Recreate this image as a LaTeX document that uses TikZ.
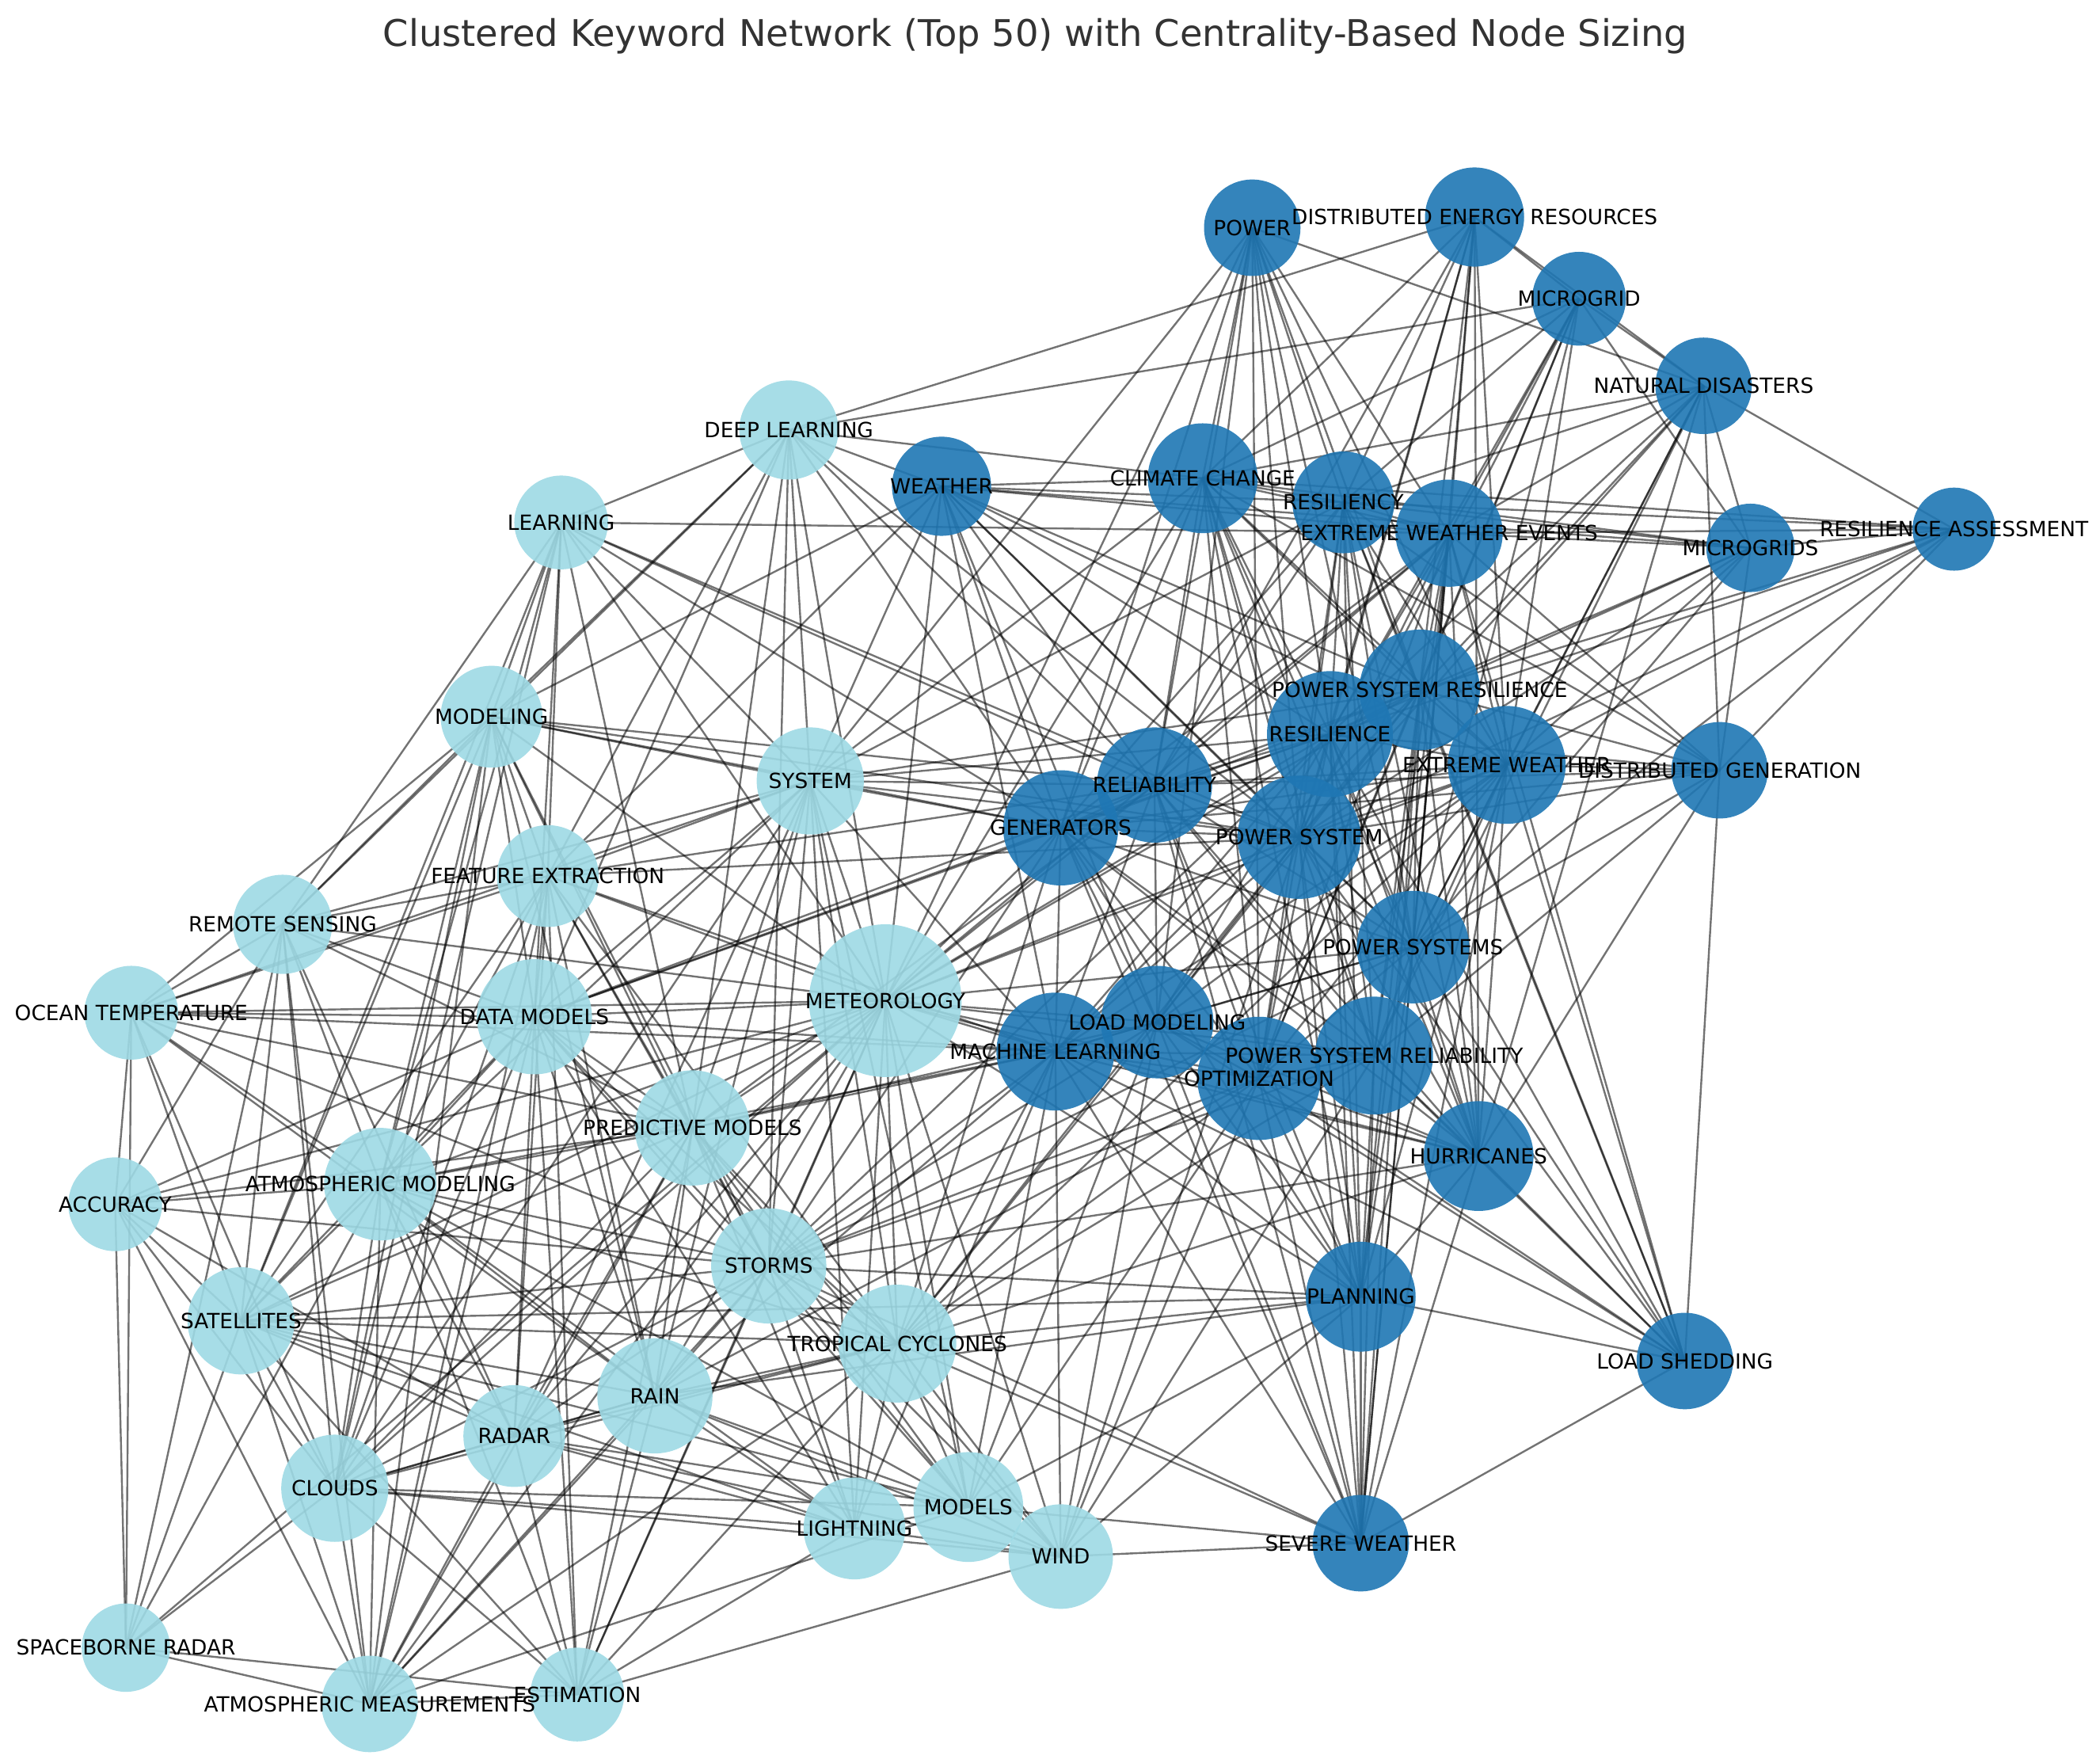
\documentclass[tikz,border=0pt]{standalone}
\usepackage{fontspec}
\setmainfont{DejaVu Sans}
\pgfdeclarelayer{bg}
\pgfsetlayers{bg,main}
\definecolor{darkc}{HTML}{1F77B4}
\definecolor{lightc}{HTML}{9EDAE5}
\definecolor{titlec}{HTML}{333333}
\tikzset{
  kwnode/.style={circle, inner sep=0pt, draw=none, fill opacity=0.9, minimum size=#1*0.84566pt},
  dknode/.style={kwnode=#1, fill=darkc},
  ltnode/.style={kwnode=#1, fill=lightc},
  lbl/.style={inner sep=0pt, font=\fontsize{6.6}{7}\selectfont, text=black},
  lnk/.style={draw=black, opacity=0.55, line width=0.6pt},
  ttl/.style={inner sep=0pt, font=\fontsize{11.6}{14}\selectfont, text=titlec, anchor=base}
}
\begin{document}
\begin{tikzpicture}[x=0.42283pt, y=-0.42283pt]
\useasboundingbox (0,0) rectangle (1568,1316.1);
% dark cluster
\node[dknode=36] (pw) at (935,170) {};
\node[dknode=37] (der) at (1101,162) {};
\node[dknode=35] (mg) at (1179,223) {};
\node[dknode=36] (nd) at (1272,288) {};
\node[dknode=37] (wx) at (703,363) {};
\node[dknode=41] (cc) at (898,357) {};
\node[dknode=38] (rsy) at (1003,375) {};
\node[dknode=40] (ewe) at (1082,398) {};
\node[dknode=33] (mgs) at (1307,409) {};
\node[dknode=31] (ra) at (1459,395) {};
\node[dknode=45] (psr) at (1060,515) {};
\node[dknode=47] (res) at (993,548) {};
\node[dknode=44] (ew) at (1125,571) {};
\node[dknode=36] (dg) at (1284,575) {};
\node[dknode=43] (rel) at (862,586) {};
\node[dknode=43] (gen) at (792,618) {};
\node[dknode=46] (ps) at (970,625) {};
\node[dknode=42] (pss) at (1055,707) {};
\node[dknode=42] (lm) at (864,763) {};
\node[dknode=44] (ml) at (788,785) {};
\node[dknode=46] (opt) at (940,805) {};
\node[dknode=44] (psrel) at (1026,788) {};
\node[dknode=41] (hur) at (1104,863) {};
\node[dknode=41] (pl) at (1016,968) {};
\node[dknode=36] (ls) at (1258,1016) {};
\node[dknode=36] (sw) at (1016,1152) {};
% light cluster
\node[ltnode=37] (dl) at (589,321) {};
\node[ltnode=35] (lrn) at (419,390) {};
\node[ltnode=38] (mod) at (367,535) {};
\node[ltnode=40] (sys) at (605,583) {};
\node[ltnode=38] (fe) at (409,654) {};
\node[ltnode=37] (rs) at (211,690) {};
\node[ltnode=35] (ot) at (98,756) {};
\node[ltnode=43] (dm) at (399,759) {};
\node[ltnode=57] (met) at (661,747) {};
\node[ltnode=43] (pm) at (517,842) {};
\node[ltnode=35] (acc) at (86,899) {};
\node[ltnode=42] (am) at (284,884) {};
\node[ltnode=43] (st) at (574,945) {};
\node[ltnode=40] (sat) at (180,986) {};
\node[ltnode=44] (tc) at (670,1003) {};
\node[ltnode=43] (rain) at (489,1042) {};
\node[ltnode=38] (rad) at (384,1072) {};
\node[ltnode=40] (cl) at (250,1111) {};
\node[ltnode=41] (mdl) at (723,1125) {};
\node[ltnode=38] (lt) at (638,1141) {};
\node[ltnode=39] (wind) at (792,1162) {};
\node[ltnode=33] (sr) at (94,1230) {};
\node[ltnode=36] (amm) at (276,1272) {};
\node[ltnode=35] (est) at (431,1265) {};
% edges below the nodes
\begin{pgfonlayer}{bg}
\fill[white] (0,0) rectangle (1568,1316.1);
\foreach \b in {nd,cc,rsy,ewe,res,psr,ps,rel,gen,sys,ew,pss,opt,met,lm} \draw[lnk] (pw.center) -- (\b.center);
\foreach \b in {mg,nd,dl,cc,rsy,ewe,psr,res,ps,ew,pss,hur,rel} \draw[lnk] (der.center) -- (\b.center);
\foreach \b in {nd,dl,cc,rsy,ewe,psr,res,ew,ps,mgs,pss,opt} \draw[lnk] (mg.center) -- (\b.center);
\foreach \b in {ra,cc,rsy,ewe,psr,res,ew,ps,mgs,dg,pss,hur,psrel} \draw[lnk] (nd.center) -- (\b.center);
\foreach \b in {dl,cc,rsy,ewe,mgs,sys,met,gen,rel,ps,res,psr,ew,fe,mod,ml,lm,pss} \draw[lnk] (wx.center) -- (\b.center);
\foreach \b in {dl,rsy,ewe,mgs,ra,psr,res,ew,ps,rel,gen,pss,psrel,opt,hur,sys,met,pl,dg} \draw[lnk] (cc.center) -- (\b.center);
\foreach \b in {ewe,mgs,ra,psr,res,ew,dg,ps,pss,psrel,rel,gen,opt,hur,pl,ls,sys} \draw[lnk] (rsy.center) -- (\b.center);
\foreach \b in {mgs,ra,psr,res,ew,dg,ps,pss,psrel,rel,gen,opt,hur,pl,ls,sw,lrn,met} \draw[lnk] (ewe.center) -- (\b.center);
\foreach \b in {ra,psr,res,ew,dg,ps,pss} \draw[lnk] (mgs.center) -- (\b.center);
\foreach \b in {psr,res,ew,dg,ps,pss} \draw[lnk] (ra.center) -- (\b.center);
\foreach \b in {res,ew,dg,ps,pss,psrel,rel,gen,opt,lm,ml,hur,pl,ls,sw,sys,met} \draw[lnk] (psr.center) -- (\b.center);
\foreach \b in {ew,dg,ps,pss,psrel,rel,gen,opt,lm,ml,hur,pl,ls,sw,sys,met,dm,st} \draw[lnk] (res.center) -- (\b.center);
\foreach \b in {dg,ps,pss,psrel,rel,gen,opt,lm,ml,hur,pl,ls,sw,met,tc} \draw[lnk] (ew.center) -- (\b.center);
\foreach \b in {ls,ps,pss,psrel,rel,gen,hur} \draw[lnk] (dg.center) -- (\b.center);
\foreach \b in {gen,ps,pss,psrel,opt,lm,ml,hur,pl,sw,sys,met,dm,fe,pm} \draw[lnk] (rel.center) -- (\b.center);
\foreach \b in {ps,pss,psrel,opt,lm,ml,hur,pl,sw,sys,met,dm,st,tc} \draw[lnk] (gen.center) -- (\b.center);
\foreach \b in {pss,psrel,opt,lm,ml,hur,pl,ls,sw,sys,met,tc,wind} \draw[lnk] (ps.center) -- (\b.center);
\foreach \b in {psrel,opt,lm,ml,hur,pl,ls,sw,met,st} \draw[lnk] (pss.center) -- (\b.center);
\foreach \b in {ml,opt,psrel,hur,pl,ls,sw,met,tc,st,mdl,wind,pm} \draw[lnk] (lm.center) -- (\b.center);
\foreach \b in {opt,psrel,hur,pl,ls,sw,met,sys,dm,pm,st,tc,rain,mdl,wind,lt,fe,am,ot} \draw[lnk] (ml.center) -- (\b.center);
\foreach \b in {psrel,hur,pl,ls,sw,met,tc,st,mdl,wind,rain} \draw[lnk] (opt.center) -- (\b.center);
\foreach \b in {hur,pl,ls,sw,met,tc,st,wind} \draw[lnk] (psrel.center) -- (\b.center);
\foreach \b in {pl,ls,sw,tc,met,st} \draw[lnk] (hur.center) -- (\b.center);
\foreach \b in {ls,sw,tc,st,mdl,wind,met,rain,sat} \draw[lnk] (pl.center) -- (\b.center);
\foreach \b in {sw} \draw[lnk] (ls.center) -- (\b.center);
\foreach \b in {wind,mdl,tc,st} \draw[lnk] (sw.center) -- (\b.center);
\foreach \b in {lrn,mod,sys,fe,dm,met,gen,rel,ps,pm,st,rs} \draw[lnk] (dl.center) -- (\b.center);
\foreach \b in {mod,fe,dm,sys,met,rs,am,sat,cl,pm,rel,gen,ps} \draw[lnk] (lrn.center) -- (\b.center);
\foreach \b in {fe,dm,sys,met,rs,ot,am,sat,cl,pm,rain,amm,st,ps,gen,rel} \draw[lnk] (mod.center) -- (\b.center);
\foreach \b in {fe,dm,met,pm,st,tc,rain,rad,cl,am,rs,mdl,lt,ot} \draw[lnk] (sys.center) -- (\b.center);
\foreach \b in {dm,met,rs,ot,pm,am,sat,cl,rad,rain,amm,est,st,tc,ps} \draw[lnk] (fe.center) -- (\b.center);
\foreach \b in {ot,dm,met,am,acc,sat,cl,pm,amm,sr,rad} \draw[lnk] (rs.center) -- (\b.center);
\foreach \b in {dm,met,acc,am,sat,cl,pm,st,rain,sr} \draw[lnk] (ot.center) -- (\b.center);
\foreach \b in {met,pm,am,acc,sat,cl,st,tc,rain,rad,mdl,lt,amm,est} \draw[lnk] (dm.center) -- (\b.center);
\foreach \b in {pm,am,acc,sat,st,tc,rain,rad,cl,mdl,lt,wind,amm,est,sr} \draw[lnk] (met.center) -- (\b.center);
\foreach \b in {am,sat,st,tc,rain,rad,cl,mdl,lt,wind,amm,est,acc} \draw[lnk] (pm.center) -- (\b.center);
\foreach \b in {am,sat,cl,sr,amm,rad,st} \draw[lnk] (acc.center) -- (\b.center);
\foreach \b in {sat,cl,rad,rain,st,tc,amm,est,sr,lt,mdl} \draw[lnk] (am.center) -- (\b.center);
\foreach \b in {tc,rain,rad,cl,mdl,lt,wind,amm,est,sat} \draw[lnk] (st.center) -- (\b.center);
\foreach \b in {cl,rad,rain,amm,sr,est,tc,mdl,lt} \draw[lnk] (sat.center) -- (\b.center);
\foreach \b in {rain,rad,cl,mdl,lt,wind,amm,est} \draw[lnk] (tc.center) -- (\b.center);
\foreach \b in {rad,cl,mdl,lt,wind,amm,est} \draw[lnk] (rain.center) -- (\b.center);
\foreach \b in {cl,lt,mdl,amm,est,wind} \draw[lnk] (rad.center) -- (\b.center);
\foreach \b in {lt,mdl,amm,est,sr,wind} \draw[lnk] (cl.center) -- (\b.center);
\foreach \b in {lt,wind,amm} \draw[lnk] (mdl.center) -- (\b.center);
\foreach \b in {wind,est} \draw[lnk] (lt.center) -- (\b.center);
\foreach \b in {amm,est} \draw[lnk] (sr.center) -- (\b.center);
\foreach \b in {est} \draw[lnk] (amm.center) -- (\b.center);
\foreach \b in {est} \draw[lnk] (wind.center) -- (\b.center);
\end{pgfonlayer}
% labels
\node[lbl] (pw-t) at (pw) {POWER};
\node[lbl] (der-t) at (der) {DISTRIBUTED ENERGY RESOURCES};
\node[lbl] (mg-t) at (mg) {MICROGRID};
\node[lbl] (nd-t) at (nd) {NATURAL DISASTERS};
\node[lbl] (wx-t) at (wx) {WEATHER};
\node[lbl] (cc-t) at (cc) {CLIMATE CHANGE};
\node[lbl] (rsy-t) at (rsy) {RESILIENCY};
\node[lbl] (ewe-t) at (ewe) {EXTREME WEATHER EVENTS};
\node[lbl] (mgs-t) at (mgs) {MICROGRIDS};
\node[lbl] (ra-t) at (ra) {RESILIENCE ASSESSMENT};
\node[lbl] (psr-t) at (psr) {POWER SYSTEM RESILIENCE};
\node[lbl] (res-t) at (res) {RESILIENCE};
\node[lbl] (ew-t) at (ew) {EXTREME WEATHER};
\node[lbl] (dg-t) at (dg) {DISTRIBUTED GENERATION};
\node[lbl] (rel-t) at (rel) {RELIABILITY};
\node[lbl] (gen-t) at (gen) {GENERATORS};
\node[lbl] (ps-t) at (ps) {POWER SYSTEM};
\node[lbl] (pss-t) at (pss) {POWER SYSTEMS};
\node[lbl] (lm-t) at (lm) {LOAD MODELING};
\node[lbl] (ml-t) at (ml) {MACHINE LEARNING};
\node[lbl] (opt-t) at (opt) {OPTIMIZATION};
\node[lbl] (psrel-t) at (psrel) {POWER SYSTEM RELIABILITY};
\node[lbl] (hur-t) at (hur) {HURRICANES};
\node[lbl] (pl-t) at (pl) {PLANNING};
\node[lbl] (ls-t) at (ls) {LOAD SHEDDING};
\node[lbl] (sw-t) at (sw) {SEVERE WEATHER};
\node[lbl] (dl-t) at (dl) {DEEP LEARNING};
\node[lbl] (lrn-t) at (lrn) {LEARNING};
\node[lbl] (mod-t) at (mod) {MODELING};
\node[lbl] (sys-t) at (sys) {SYSTEM};
\node[lbl] (fe-t) at (fe) {FEATURE EXTRACTION};
\node[lbl] (rs-t) at (rs) {REMOTE SENSING};
\node[lbl] (ot-t) at (ot) {OCEAN TEMPERATURE};
\node[lbl] (dm-t) at (dm) {DATA MODELS};
\node[lbl] (met-t) at (met) {METEOROLOGY};
\node[lbl] (pm-t) at (pm) {PREDICTIVE MODELS};
\node[lbl] (acc-t) at (acc) {ACCURACY};
\node[lbl] (am-t) at (am) {ATMOSPHERIC MODELING};
\node[lbl] (st-t) at (st) {STORMS};
\node[lbl] (sat-t) at (sat) {SATELLITES};
\node[lbl] (tc-t) at (tc) {TROPICAL CYCLONES};
\node[lbl] (rain-t) at (rain) {RAIN};
\node[lbl] (rad-t) at (rad) {RADAR};
\node[lbl] (cl-t) at (cl) {CLOUDS};
\node[lbl] (mdl-t) at (mdl) {MODELS};
\node[lbl] (lt-t) at (lt) {LIGHTNING};
\node[lbl] (wind-t) at (wind) {WIND};
\node[lbl] (sr-t) at (sr) {SPACEBORNE RADAR};
\node[lbl] (amm-t) at (amm) {ATMOSPHERIC MEASUREMENTS};
\node[lbl] (est-t) at (est) {ESTIMATION};
% title
\node[ttl] (title) at (773,34.5) {Clustered Keyword Network (Top 50) with Centrality-Based Node Sizing};
\end{tikzpicture}
\end{document}
